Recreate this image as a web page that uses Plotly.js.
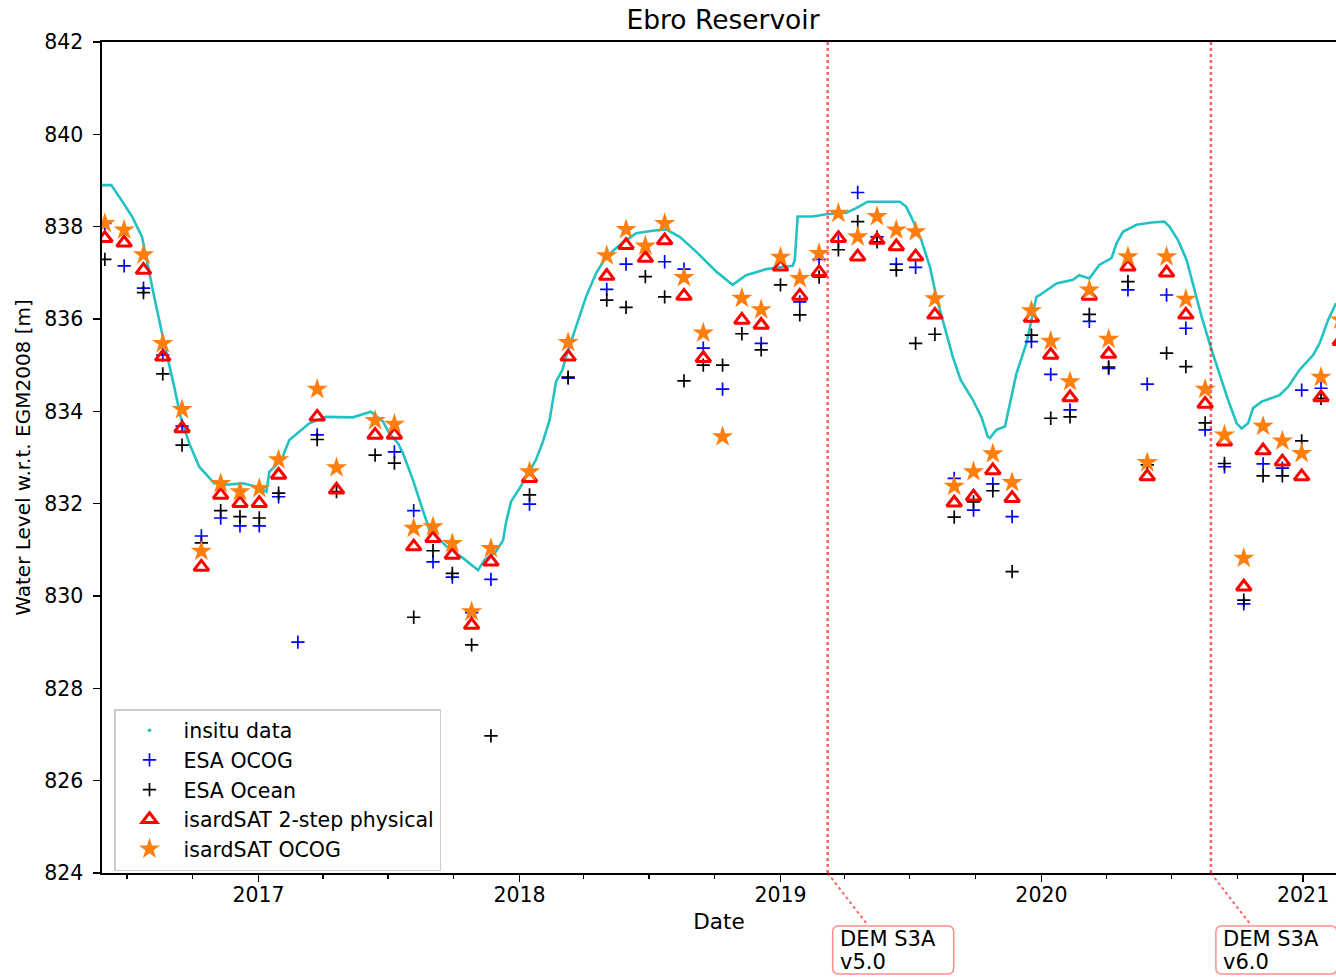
<!DOCTYPE html>
<html>
<head>
<meta charset="utf-8">
<script src="https://cdn.plot.ly/plotly-3.0.1.min.js"></script>
<style>
  html, body { margin: 0; padding: 0; background: #ffffff; overflow: hidden; }
  #chart { width: 1336px; height: 977px; }
</style>
</head>
<body>
<div id="chart"></div>
<script>
// Sentinel-3A pass dates over the reservoir (27-day repeat cycle)
const passDates = [
  '2016-05-31','2016-06-27','2016-07-24','2016-08-20','2016-09-16','2016-10-13','2016-11-09','2016-12-06',
  '2017-01-02','2017-01-29','2017-02-25','2017-03-24','2017-04-20','2017-05-17','2017-06-13','2017-07-10',
  '2017-08-06','2017-09-02','2017-09-29','2017-10-26','2017-11-22','2017-12-19','2018-01-15','2018-02-11',
  '2018-03-10','2018-04-06','2018-05-03','2018-05-30','2018-06-26','2018-07-23','2018-08-19','2018-09-15',
  '2018-10-12','2018-11-08','2018-12-05','2019-01-01','2019-01-28','2019-02-24','2019-03-23','2019-04-19',
  '2019-05-16','2019-06-12','2019-07-09','2019-08-05','2019-09-01','2019-09-28','2019-10-25','2019-11-21',
  '2019-12-18','2020-01-14','2020-02-10','2020-03-08','2020-04-04','2020-05-01','2020-05-28','2020-06-24',
  '2020-07-21','2020-08-17','2020-09-13','2020-10-10','2020-11-06','2020-12-03','2020-12-30','2021-01-26',
  '2021-02-22'
];

// Water level retrievals [m], one value per pass (null = no retrieval)
const esaOcog = [
  838.07, 837.15, 836.67, 835.22, 833.68, 831.30, 831.69, 831.52,
  831.52, 832.15, 829.00, 833.49, null,   null,   null,   833.12,
  831.85, 830.74, 830.41, 829.64, 830.36, null,   831.99, null,
  834.72, null,   836.64, 837.19, null,   837.24, 837.08, 835.37,
  834.48, null,   835.47, null,   836.37, 837.29, 837.67, 838.74,
  837.78, 837.19, 837.12, null,   832.55, 831.86, 832.43, 831.72,
  835.51, 834.80, 834.03, 835.95, 834.93, 836.63, 834.59, 836.52,
  835.80, 833.60, 832.80, 829.83, 832.86, 832.77, 834.46, 834.50,
  null
];
const esaOcean = [
  837.29, null,   836.57, 834.81, 833.27, 831.15, 831.85, 831.72,
  831.69, 832.23, null,   833.39, 832.26, null,   833.05, 832.88,
  829.54, 830.98, 830.49, 828.94, 826.97, null,   832.19, null,
  834.74, null,   836.41, 836.25, 836.92, 836.48, 834.66, 835.00,
  835.00, 835.68, 835.33, 836.74, 836.09, 836.91, 837.50, 838.11,
  837.67, 837.06, 835.47, 835.67, 831.71, 832.04, 832.28, 830.53,
  835.65, 833.85, 833.88, 836.10, 834.96, 836.81, 832.84, 835.26,
  834.97, 833.75, 832.87, 829.91, 832.60, 832.60, 833.36, 834.28,
  null
];
const isard2Step = [
  837.75, 837.65, 837.06, 835.18, 833.63, 830.63, 832.19, 832.01,
  832.01, 832.62, null,   833.88, 832.30, null,   833.49, 833.49,
  831.07, 831.25, 830.89, 829.37, 830.74, null,   832.55, null,
  835.18, null,   836.93, 837.60, 837.32, 837.70, 836.50, 835.15,
  null,   835.98, 835.87, 837.13, 836.50, 837.01, 837.75, 837.35,
  837.71, 837.57, 837.35, 836.09, 832.02, 832.15, 832.72, 832.12,
  836.02, 835.22, 834.30, 836.50, 835.24, 837.13, 832.59, 837.00,
  836.09, 834.16, 833.34, 830.20, 833.15, 832.91, 832.59, 834.30,
  835.52
];
const isardOcog = [
  838.07, 837.93, 837.39, 835.47, 834.04, 830.97, 832.44, 832.26,
  832.33, 832.95, null,   834.48, 832.78, null,   833.80, 833.72,
  831.47, 831.50, 831.14, 829.66, 831.03, null,   832.69, null,
  835.49, null,   837.37, 837.94, 837.58, 838.07, 836.90, 835.70,
  833.45, 836.45, 836.20, 837.34, 836.88, 837.42, 838.29, 837.78,
  838.22, 837.93, 837.89, 836.44, 832.38, 832.69, 833.08, 832.46,
  836.18, 835.52, 834.64, 836.63, 835.56, 837.35, 832.89, 837.35,
  836.43, 834.48, 833.49, 830.82, 833.68, 833.36, 833.09, 834.74,
  835.98
];

// In-situ gauge record
const insituDates = [
  '2016-05-27','2016-06-09','2016-06-20','2016-07-08','2016-07-22','2016-08-01','2016-08-08','2016-08-17',
  '2016-08-27','2016-09-05','2016-09-14','2016-09-26','2016-10-10','2016-10-31','2016-11-16','2016-12-10',
  '2016-12-29','2017-01-12','2017-01-16','2017-02-02','2017-02-13','2017-02-22','2017-03-13','2017-04-05',
  '2017-05-13','2017-06-07','2017-06-24','2017-07-03','2017-07-15','2017-07-22','2017-08-05','2017-08-17',
  '2017-08-28','2017-09-21','2017-10-14','2017-11-04','2017-11-13','2017-11-29','2017-12-09','2017-12-13',
  '2017-12-20','2018-01-01','2018-01-15','2018-01-24','2018-02-02','2018-02-12','2018-02-21','2018-03-02',
  '2018-03-07','2018-03-21','2018-04-04','2018-04-18','2018-05-02','2018-05-21','2018-06-13','2018-07-06',
  '2018-07-25','2018-08-13','2018-09-05','2018-10-03','2018-10-26','2018-11-14','2018-12-12','2018-12-31',
  '2019-01-18','2019-01-21','2019-01-23','2019-01-25','2019-02-15','2019-03-06','2019-04-03','2019-04-17',
  '2019-05-03','2019-05-20','2019-06-17','2019-06-26','2019-07-05','2019-07-17','2019-07-29','2019-08-07',
  '2019-08-19','2019-08-30','2019-09-10','2019-09-27','2019-10-09','2019-10-18','2019-10-21','2019-10-30',
  '2019-11-11','2019-11-18','2019-11-27','2019-12-11','2019-12-18','2019-12-25','2019-12-30','2020-01-13',
  '2020-01-22','2020-02-14','2020-02-23','2020-03-08','2020-03-22','2020-04-08','2020-04-15','2020-04-24',
  '2020-05-13','2020-06-03','2020-06-21','2020-06-28','2020-07-10','2020-07-22','2020-07-31','2020-08-12',
  '2020-08-26','2020-09-07','2020-09-18','2020-09-30','2020-10-07','2020-10-16','2020-10-23','2020-11-04',
  '2020-11-29','2020-12-11','2020-12-27','2021-01-15','2021-01-24','2021-02-05','2021-02-16'
];
const insituLevel = [
  838.90, 838.90, 838.65, 838.22, 837.78, 837.06, 836.48, 835.83,
  835.18, 834.53, 833.88, 833.31, 832.80, 832.44, 832.41, 832.44,
  832.37, 832.26, 832.69, 832.95, 833.38, 833.49, 833.74, 833.88,
  833.87, 833.99, 833.78, 833.52, 833.31, 833.09, 832.51, 831.94,
  831.43, 831.07, 830.82, 830.56, 830.78, 830.96, 831.21, 831.58,
  832.04, 832.33, 832.69, 832.95, 833.31, 833.81, 834.64, 834.90,
  835.18, 835.83, 836.48, 836.99, 837.34, 837.60, 837.86, 837.91,
  837.94, 837.78, 837.46, 837.03, 836.74, 836.95, 837.08, 837.12,
  837.15, 837.28, 837.78, 838.22, 838.22, 838.27, 838.30, 838.40,
  838.54, 838.54, 838.54, 838.43, 838.14, 837.71, 837.13, 836.48,
  835.83, 835.18, 834.68, 834.25, 833.88, 833.45, 833.42, 833.60,
  833.67, 834.17, 834.82, 835.47, 835.98, 836.48, 836.52, 836.67,
  836.77, 836.85, 836.95, 836.88, 837.17, 837.32, 837.64, 837.89,
  838.04, 838.09, 838.11, 838.00, 837.71, 837.28, 836.77, 836.05,
  835.33, 834.75, 834.25, 833.74, 833.63, 833.74, 834.07, 834.21,
  834.35, 834.53, 834.90, 835.22, 835.47, 835.98, 836.34
];

// DEM changes in the Sentinel-3A processing chain
const demDates = ['2019-03-08', '2020-08-25'];
const demName = ['DEM S3A', 'DEM S3A'];
const demVersion = ['v5.0', 'v6.0'];

// Axis ticks
const yearTicks = ['2017-01-01', '2018-01-01', '2019-01-01', '2020-01-01', '2021-01-01'];
const yearLabels = ['2017', '2018', '2019', '2020', '2021'];
const levelTicks = [824, 826, 828, 830, 832, 834, 836, 838, 840, 842];

const FONT = 'DejaVu Sans, Verdana, sans-serif';
const INK = '#000000';
const DEM_RED = 'rgba(255,0,0,0.62)';
const INSITU = '#22c2c2';

const traces = [
  {
    name: 'insitu data', x: insituDates, y: insituLevel,
    type: 'scatter', mode: 'lines', showlegend: false,
    line: { color: INSITU, width: 2.6 }
  },
  {
    name: 'insitu data', x: [null], y: [null],
    type: 'scatter', mode: 'markers',
    marker: { symbol: 'circle', size: 3.5, color: INSITU }
  },
  {
    name: 'ESA OCOG', x: passDates, y: esaOcog,
    type: 'scatter', mode: 'markers',
    marker: { symbol: 'cross-thin-open', size: 9.5, color: '#0000ff', line: { color: '#0000ff', width: 1.7 } }
  },
  {
    name: 'ESA Ocean', x: passDates, y: esaOcean,
    type: 'scatter', mode: 'markers',
    marker: { symbol: 'cross-thin-open', size: 9.5, color: '#000000', line: { color: '#000000', width: 1.7 } }
  },
  {
    name: 'isardSAT 2-step physical', x: passDates, y: isard2Step,
    type: 'scatter', mode: 'markers',
    marker: { symbol: 'triangle-up-open', size: 13, color: '#ff0000', line: { color: '#ff0000', width: 3 } }
  },
  {
    name: 'isardSAT OCOG', x: passDates, y: isardOcog,
    type: 'scatter', mode: 'markers',
    marker: { symbol: 'star', size: 16, color: '#ff7f0e', line: { width: 0 } }
  }
];

// Rounded rectangle in pixel offsets (y positive upward)
function roundBox(x0, x1, yTop, yBot, r) {
  return 'M' + (x0 + r) + ',' + yTop +
    ' L' + (x1 - r) + ',' + yTop +
    ' Q' + x1 + ',' + yTop + ' ' + x1 + ',' + (yTop - r) +
    ' L' + x1 + ',' + (yBot + r) +
    ' Q' + x1 + ',' + yBot + ' ' + (x1 - r) + ',' + yBot +
    ' L' + (x0 + r) + ',' + yBot +
    ' Q' + x0 + ',' + yBot + ' ' + x0 + ',' + (yBot + r) +
    ' L' + x0 + ',' + (yTop - r) +
    ' Q' + x0 + ',' + yTop + ' ' + (x0 + r) + ',' + yTop + ' Z';
}

const shapes = [];
const annotations = [];
demDates.forEach((d, i) => {
  // vertical marker across the plot
  shapes.push({
    type: 'line', xref: 'x', yref: 'paper', x0: d, x1: d, y0: 0, y1: 1,
    line: { color: DEM_RED, width: 2.5, dash: 'dot' }, layer: 'above'
  });
  // dotted leader down to the label box
  shapes.push({
    type: 'line', xref: 'x', xsizemode: 'pixel', xanchor: d, x0: 0, x1: 40,
    yref: 'paper', ysizemode: 'pixel', yanchor: 0, y0: 0, y1: -52,
    line: { color: DEM_RED, width: 2, dash: 'dot' }
  });
  // rounded label box
  shapes.push({
    type: 'path', xref: 'x', xsizemode: 'pixel', xanchor: d,
    yref: 'paper', ysizemode: 'pixel', yanchor: 0,
    path: roundBox(5, 126, -53, -101, 6),
    line: { color: 'rgba(255,0,0,0.45)', width: 1.5 }, fillcolor: '#ffffff'
  });
  annotations.push({
    x: d, xref: 'x', y: 0, yref: 'paper', xanchor: 'left', yanchor: 'middle',
    xshift: 10, yshift: -66, showarrow: false, text: demName[i],
    font: { family: FONT, size: 21, color: INK }
  });
  annotations.push({
    x: d, xref: 'x', y: 0, yref: 'paper', xanchor: 'left', yanchor: 'middle',
    xshift: 10, yshift: -89, showarrow: false, text: demVersion[i],
    font: { family: FONT, size: 21, color: INK }
  });
});

const layout = {
  width: 1336, height: 977,
  margin: { l: 102, r: 0, t: 42, b: 104, pad: 0 },
  paper_bgcolor: '#ffffff', plot_bgcolor: '#ffffff',
  font: { family: FONT, size: 20.5, color: INK },
  title: {
    text: 'Ebro Reservoir', xref: 'container', x: 723 / 1336, xanchor: 'center',
    yref: 'container', y: 1 - 20 / 977, yanchor: 'middle',
    font: { family: FONT, size: 26.5, color: INK }
  },
  xaxis: {
    type: 'date', range: ['2016-05-27', '2021-02-16'],
    tickmode: 'array', tickvals: yearTicks, ticktext: yearLabels,
    ticks: 'outside', ticklen: 7, tickwidth: 1.6, tickcolor: INK,
    ticklabelstandoff: -4,
    minor: { dtick: 'M3', tick0: '2017-01-01', ticks: 'outside', ticklen: 4, tickwidth: 1.2, tickcolor: INK, showgrid: false },
    showline: true, linecolor: INK, linewidth: 1.6, mirror: true,
    showgrid: false, zeroline: false,
    tickfont: { family: FONT, size: 20.5, color: INK },
    title: { text: 'Date', font: { family: FONT, size: 21.5, color: INK }, standoff: 8 }
  },
  yaxis: {
    range: [824, 842], tickmode: 'array', tickvals: levelTicks,
    ticks: 'outside', ticklen: 7, tickwidth: 1.6, tickcolor: INK,
    ticklabelstandoff: 6,
    showline: true, linecolor: INK, linewidth: 1.6, mirror: false,
    showgrid: false, zeroline: false,
    tickfont: { family: FONT, size: 20.5, color: INK },
    title: { text: 'Water Level w.r.t. EGM2008 [m]', font: { family: FONT, size: 20, color: INK }, standoff: 8 }
  },
  legend: {
    x: (114 - 102) / 1234, y: (873 - 709) / 831, xanchor: 'left', yanchor: 'top',
    bgcolor: 'rgba(255,255,255,0.85)', bordercolor: '#cccccc', borderwidth: 1.5,
    font: { family: FONT, size: 20.5, color: INK },
    itemwidth: 58, tracegroupgap: 0,
    entrywidth: 290, entrywidthmode: 'pixels'
  },
  shapes: shapes,
  annotations: annotations,
  showlegend: true
};

Plotly.newPlot('chart', traces, layout, { displayModeBar: false, staticPlot: true });
</script>
</body>
</html>
